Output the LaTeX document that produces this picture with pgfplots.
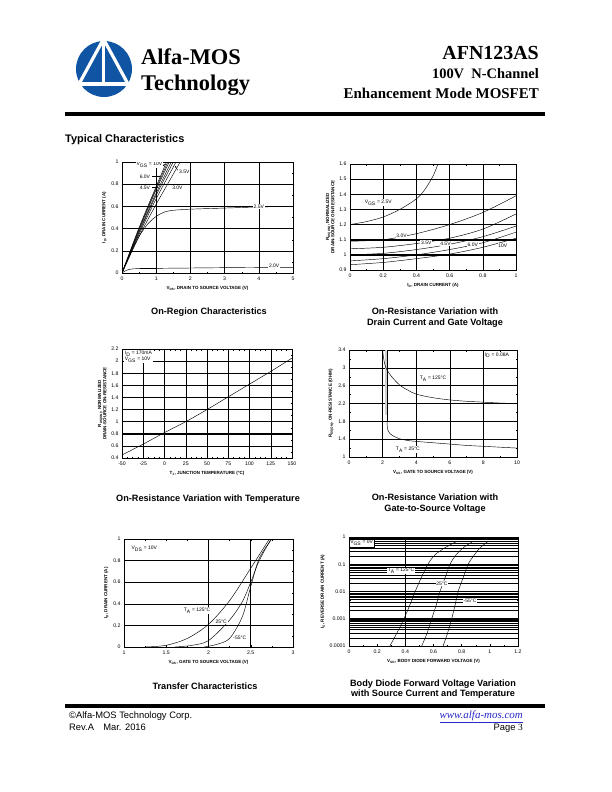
\documentclass[border=0pt]{standalone}
\usepackage{fontspec}
\setmainfont{Liberation Serif}
\newfontfamily\arial{Liberation Sans}
\usepackage{pgfplots}
\pgfplotsset{compat=1.18}
\usetikzlibrary{arrows.meta}
\definecolor{logoblue}{RGB}{16,84,164}
\definecolor{urlblue}{RGB}{40,40,200}
\newcommand\tickf{\fontsize{5.2}{6}\selectfont\arial}
\newcommand\labf{\fontsize{4.5}{5.3}\selectfont\arial\bfseries}
\newcommand\txtf{\fontsize{5}{5.8}\selectfont\arial}
\newcommand\ttlf{\fontsize{9.2}{10}\selectfont\arial\bfseries}
\newcommand\sub[1]{\textsubscript{#1}}
\tikzset{
  thk/.style={line width=1.1pt},
  lbl/.style={font=\txtf,inner sep=0.6pt},
  wl/.style={font=\txtf,inner sep=0.8pt,fill=white},
}
\pgfplotsset{
  ds/.style={scale only axis, anchor=south west,
    axis line style={black,line width=0.6pt},
    tick style={black,line width=0.4pt},
    major tick length=2pt, minor tick length=1.5pt, tick align=inside,
    grid=major, major grid style={black,line width=0.4pt},
    ticklabel style={font=\tickf},
    label style={font=\labf},
    xlabel style={yshift=1pt},
    ylabel style={yshift=-2pt},
    /pgf/number format/assume math mode=true,
    /pgf/number format/fixed,
    every axis plot/.append style={black,line width=0.45pt,mark=none},
  },
}
\begin{document}
\begin{tikzpicture}
\begin{scope}[x=1bp,y=1bp]
\useasboundingbox (0,0) rectangle (612,-792);
% logo
\fill[logoblue] (104,-69) circle (28);
\fill[white] (74,-81.5) rectangle (134,-85.5);
\draw[white,line width=3.2bp] (103.5,-39) -- (79,-84);
\draw[white,line width=3.2bp] (103.5,-39) -- (128,-84);
\draw[white,line width=2.2bp] (103.5,-39) -- (103.5,-84);
\node[anchor=base west,inner sep=0,font=\fontsize{22.5}{25}\selectfont\bfseries] at (141,-65) {Alfa-MOS};
\node[anchor=base west,inner sep=0,font=\fontsize{22.5}{25}\selectfont\bfseries] at (141,-90) {Technology};
\node[anchor=base east,inner sep=0,font=\fontsize{20}{22}\selectfont\bfseries] at (539,-60) {AFN123AS};
\node[anchor=base east,inner sep=0,font=\fontsize{14.5}{16}\selectfont\bfseries] at (539,-79) {100V\ \ N-Channel};
\node[anchor=base east,inner sep=0,font=\fontsize{15}{16}\selectfont\bfseries] at (539,-98) {Enhancement Mode MOSFET};
\fill (65,-111.5) rectangle (545,-115.5);
\node[anchor=base west,inner sep=0,font=\fontsize{11}{12}\selectfont\arial\bfseries] at (65,-142) {Typical Characteristics};
% footer
\fill (65,-703.5) rectangle (545,-708);
\node[anchor=base west,inner sep=0,font=\fontsize{9.4}{10}\selectfont\arial] at (69,-718) {©Alfa-MOS Technology Corp.};
\node[anchor=base west,inner sep=0,font=\fontsize{9.4}{10}\selectfont\arial] at (69,-730) {Rev.A\quad Mar. 2016};
\node[anchor=base east,inner sep=0,font=\fontsize{11}{12}\selectfont\itshape,text=urlblue] at (523,-718) {\underline{www.alfa-mos.com}};
\node[anchor=base east,inner sep=0,font=\fontsize{9.4}{10}\selectfont] at (523,-730) {{\arial Page }3};
% titles
\node[anchor=base,inner sep=0,font=\ttlf] at (209,-314) {On-Region Characteristics};
\node[anchor=base,inner sep=0,font=\ttlf] at (435,-314) {On-Resistance Variation with};
\node[anchor=base,inner sep=0,font=\ttlf] at (435,-325) {Drain Current and Gate Voltage};
\node[anchor=base,inner sep=0,font=\ttlf] at (208,-501.5) {On-Resistance Variation with Temperature};
\node[anchor=base,inner sep=0,font=\ttlf] at (435,-500) {On-Resistance Variation with};
\node[anchor=base,inner sep=0,font=\ttlf] at (435,-511) {Gate-to-Source Voltage};
\node[anchor=base,inner sep=0,font=\ttlf] at (205,-689) {Transfer Characteristics};
\node[anchor=base,inner sep=0,font=\ttlf] at (433,-686.5) {Body Diode Forward Voltage Variation};
\node[anchor=base,inner sep=0,font=\ttlf] at (433,-696.5) {with Source Current and Temperature};
\end{scope}

% ---------- Plot 1: On-region
\begin{axis}[ds, at={(122bp,-273bp)}, width=171bp, height=111bp,
  xmin=0,xmax=5,ymin=0,ymax=1, xtick={0,1,2,3,4,5}, ytick={0,0.2,0.4,0.6,0.8,1},
  minor x tick num=1, minor y tick num=1,
  xlabel={V\sub{DS}, DRAIN TO SOURCE VOLTAGE (V)}, ylabel={I\sub{D}, DRAIN CURRENT (A)}]
\draw[thk] (0,0.6) -- (5,0.6);
\draw[thk] (1,0.04) -- (1,0.8);
\draw[thk] (0.52,0.042) -- (1,0.042);
\addplot[smooth] coordinates {(0,0) (0.5,0.41) (1,0.78) (1.3,1)};
\addplot[smooth] coordinates {(0,0) (0.5,0.40) (1,0.765) (1.34,1)};
\addplot[smooth] coordinates {(0,0) (0.5,0.39) (1,0.75) (1.38,1)};
\addplot[smooth] coordinates {(0,0) (0.5,0.375) (1,0.72) (1.44,1)};
\addplot[smooth] coordinates {(0,0) (0.5,0.365) (1,0.70) (1.5,1)};
\addplot[smooth] coordinates {(0,0) (0.5,0.35) (1,0.67) (1.58,1)};
\addplot[smooth] coordinates {(0,0) (0.5,0.33) (1,0.62) (1.35,0.81) (1.7,1)};
\addplot[smooth] coordinates {(0,0) (0.25,0.18) (0.5,0.33) (0.75,0.44) (1,0.51) (1.25,0.55) (1.5,0.565) (2,0.575) (3,0.585) (4,0.595) (5,0.6)};
\addplot[smooth] coordinates {(0,0) (0.1,0.02) (0.25,0.035) (0.5,0.04) (1,0.042) (2,0.045) (3,0.048) (4,0.05) (5,0.05)};
\node[wl] at (0.8,0.975) {V\sub{GS} = 10V};
\draw[line width=0.4pt,-{Stealth[length=2pt,width=1.5pt]}] (1.2,0.975) -- (1.27,0.975);
\node[wl] at (0.67,0.87) {6.0V};
\draw[line width=0.4pt,-{Stealth[length=2pt,width=1.5pt]}] (0.88,0.87) -- (1.13,0.87);
\node[wl] at (0.67,0.77) {4.5V};
\draw[line width=0.4pt,-{Stealth[length=2pt,width=1.5pt]}] (0.88,0.77) -- (1.06,0.77);
\node[wl] at (1.62,0.77) {3.0V};
\node[wl] at (1.82,0.915) {3.5V};
\draw[line width=0.4pt,-{Stealth[length=2pt,width=1.5pt]}] (1.63,0.925) -- (1.55,0.965);
\node[wl] at (4.0,0.6) {2.5V};
\node[wl] at (4.45,0.065) {2.0V};
\end{axis}

% ---------- Plot 2: Rds vs Id
\begin{axis}[ds, at={(350bp,-270bp)}, width=166bp, height=106bp,
  xmin=0,xmax=1,ymin=0.9,ymax=1.6, xtick={0,0.2,0.4,0.6,0.8,1}, ytick={0.9,1,1.1,1.2,1.3,1.4,1.5,1.6},
  minor x tick num=1,
  xlabel={I\sub{D}, DRAIN CURRENT (A)},
  ylabel={R\sub{DS(ON)}, NORMALIZED\\DRAIN-SOURCE ON-RESISTANCE}, ylabel style={align=center}]
\draw[thk] (0.4,0.9) -- (0.4,1.6);
\draw[thk] (0,1) -- (1,1);
\draw[thk] (0,1.1) -- (1,1.1);
\draw[thk] (0,1.4) -- (1,1.4);
\addplot[smooth] coordinates {(0,1.2) (0.1,1.22) (0.2,1.25) (0.3,1.3) (0.4,1.37) (0.45,1.43) (0.5,1.52) (0.53,1.6)};
\addplot[smooth] coordinates {(0,1.09) (0.2,1.1) (0.4,1.14) (0.6,1.2) (0.8,1.28) (1,1.39)};
\addplot[smooth] coordinates {(0,1.04) (0.2,1.05) (0.4,1.075) (0.6,1.11) (0.8,1.17) (1,1.27)};
\addplot[smooth] coordinates {(0,1.0) (0.2,1.01) (0.4,1.035) (0.6,1.07) (0.8,1.12) (1,1.19)};
\addplot[smooth] coordinates {(0,0.96) (0.2,0.975) (0.4,1.0) (0.6,1.035) (0.8,1.08) (1,1.15)};
\addplot[smooth] coordinates {(0,0.935) (0.2,0.95) (0.4,0.975) (0.6,1.005) (0.8,1.05) (1,1.11)};
\node[wl] at (0.17,1.345) {V\sub{GS} = 2.5V};
\node[wl] at (0.31,1.125) {3.0V};
\node[wl] at (0.46,1.08) {3.5V};
\node[wl] at (0.575,1.075) {4.5V};
\node[wl] at (0.74,1.065) {6.0V};
\node[wl] at (0.92,1.06) {10V};
\end{axis}

% ---------- Plot 3: Rds vs temperature
\begin{axis}[ds, at={(122bp,-458bp)}, width=170bp, height=109bp,
  xmin=-50,xmax=150,ymin=0.4,ymax=2.2, xtick={-50,-25,0,25,50,75,100,125,150},
  ytick={0.4,0.6,0.8,1,1.2,1.4,1.6,1.8,2,2.2},
  minor x tick num=3, minor y tick num=1,
  xlabel={T\sub{J}, JUNCTION TEMPERATURE (°C)},
  ylabel={R\sub{DS(ON)}, NORMALIZED\\DRAIN-SOURCE ON-RESISTANCE}, ylabel style={align=center}]
\draw[thk] (-50,1) -- (150,1);
\draw[thk] (-50,0.8) -- (150,0.8);
\addplot[smooth] coordinates {(-50,0.45) (-25,0.63) (0,0.82) (25,1.0) (50,1.2) (75,1.41) (100,1.62) (125,1.83) (150,2.05)};
\node[font=\txtf,fill=white,inner sep=1pt,anchor=north west,align=left] at (-48,2.18) {I\sub{D} = 170mA\\V\sub{GS} = 10V};
\end{axis}

% ---------- Plot 4: Rds vs Vgs
\begin{axis}[ds, at={(349bp,-457bp)}, width=168bp, height=107bp,
  xmin=0,xmax=10,ymin=1,ymax=3.4, xtick={0,2,4,6,8,10}, ytick={1,1.4,1.8,2.2,2.6,3,3.4},
  minor x tick num=1, minor y tick num=1,
  xlabel={V\sub{GS}, GATE TO SOURCE VOLTAGE (V)},
  ylabel={R\sub{DS(ON)}, ON-RESISTANCE (OHM)}]
\fill[gray!35] (2.17,1.95) rectangle (2.33,3.4);
\draw[thk] (0,1.4) -- (10,1.4);
\draw[thk] (0,1.8) -- (10,1.8);
\addplot[smooth] coordinates {(2.0,3.4) (2.08,3.17) (2.2,3.0) (2.5,2.82) (3,2.62) (3.5,2.5) (4,2.41) (5,2.33) (6,2.28) (7,2.25) (8,2.23) (9,2.21) (10,2.2)};
\addplot[sharp plot] coordinates {(2.26,3.4) (2.26,1.8)};
\addplot[smooth] coordinates {(2.26,1.8) (2.3,1.62) (2.45,1.52) (2.75,1.45) (3,1.41) (3.5,1.37) (4,1.35) (5,1.32) (6,1.29) (7,1.26) (8,1.24) (9,1.22) (10,1.2)};
\node[lbl] at (8.8,3.28) {I\sub{D} = 0.08A};
\node[wl] at (5.0,2.75) {T\sub{A} = 125°C};
\node[wl] at (3.5,1.17) {T\sub{A} = 25°C};
\end{axis}

% ---------- Plot 5: Transfer
\begin{axis}[ds, at={(124bp,-647bp)}, width=169bp, height=108bp,
  xmin=1,xmax=3,ymin=0,ymax=1, xtick={1,1.5,2,2.5,3}, ytick={0,0.2,0.4,0.6,0.8,1},
  minor x tick num=1, minor y tick num=1, grid=none, ymajorgrids=true,
  xlabel={V\sub{GS}, GATE TO SOURCE VOLTAGE (V)},
  ylabel={I\sub{D}, DRAIN CURRENT (A)}]
\draw[line width=0.4pt] (2,0) -- (2,1);
\draw[thk] (2.5,0) -- (2.5,1);
\addplot[smooth] coordinates {(1.25,0) (1.5,0.016) (1.75,0.08) (2,0.21) (2.25,0.43) (2.5,0.73) (2.72,1.0)};
\addplot[smooth] coordinates {(1.6,0) (1.8,0.015) (2,0.06) (2.25,0.25) (2.4,0.42) (2.5,0.6) (2.6,0.8) (2.74,1.0)};
\addplot[smooth] coordinates {(1.95,0) (2.1,0.025) (2.25,0.08) (2.4,0.28) (2.5,0.56) (2.6,0.82) (2.75,1.0)};
\node[wl] at (1.24,0.907) {V\sub{DS} = 10V};
\node[wl] at (1.865,0.335) {T\sub{A} = 125°C};
\node[wl] at (2.15,0.233) {25°C};
\node[wl] at (2.37,0.084) {-55°C};
\end{axis}

% ---------- Plot 6: Body diode
\begin{axis}[ds, at={(349bp,-646bp)}, width=169bp, height=109bp,
  ymode=log, xmin=0,xmax=1.2,ymin=1e-4,ymax=1, xtick={0,0.2,0.4,0.6,0.8,1,1.2},
  ytick={1e-4,1e-3,1e-2,1e-1,1}, yticklabels={0.0001,0.001,0.01,0.1,1},
  minor x tick num=1, grid=none, ymajorgrids=true, yminorgrids=true,
  major grid style={black,line width=0.8pt}, minor grid style={black,line width=0.45pt},
  xlabel={V\sub{SD}, BODY DIODE FORWARD VOLTAGE (V)},
  ylabel={I\sub{S}, REVERSE DRAIN CURRENT (A)}]
\draw[thk] (0.4,1e-4) -- (0.4,1);
\addplot[smooth] coordinates {(0.29,1e-4) (0.34,3e-4) (0.39,1e-3) (0.43,3e-3) (0.47,1e-2) (0.51,3e-2) (0.56,0.1) (0.61,0.22) (0.68,0.4) (0.765,0.69)};
\addplot[smooth] coordinates {(0.516,1e-4) (0.555,3e-4) (0.587,1e-3) (0.618,3e-3) (0.646,1e-2) (0.68,3e-2) (0.717,0.1) (0.76,0.22) (0.81,0.4) (0.88,0.69)};
\addplot[smooth] coordinates {(0.668,1e-4) (0.7,3e-4) (0.729,1e-3) (0.752,3e-3) (0.775,1e-2) (0.808,3e-2) (0.846,0.1) (0.89,0.22) (0.93,0.4) (0.987,0.69)};
\node[wl,draw=black,line width=0.3pt,inner sep=1pt] at (0.09,0.6) {V\sub{GS} = 0V};
\node[wl] at (0.37,0.057) {T\sub{A} = 125°C};
\node[wl] at (0.66,0.019) {25°C};
\node[wl] at (0.86,0.0046) {-55°C};
\end{axis}
\end{tikzpicture}
\end{document}
